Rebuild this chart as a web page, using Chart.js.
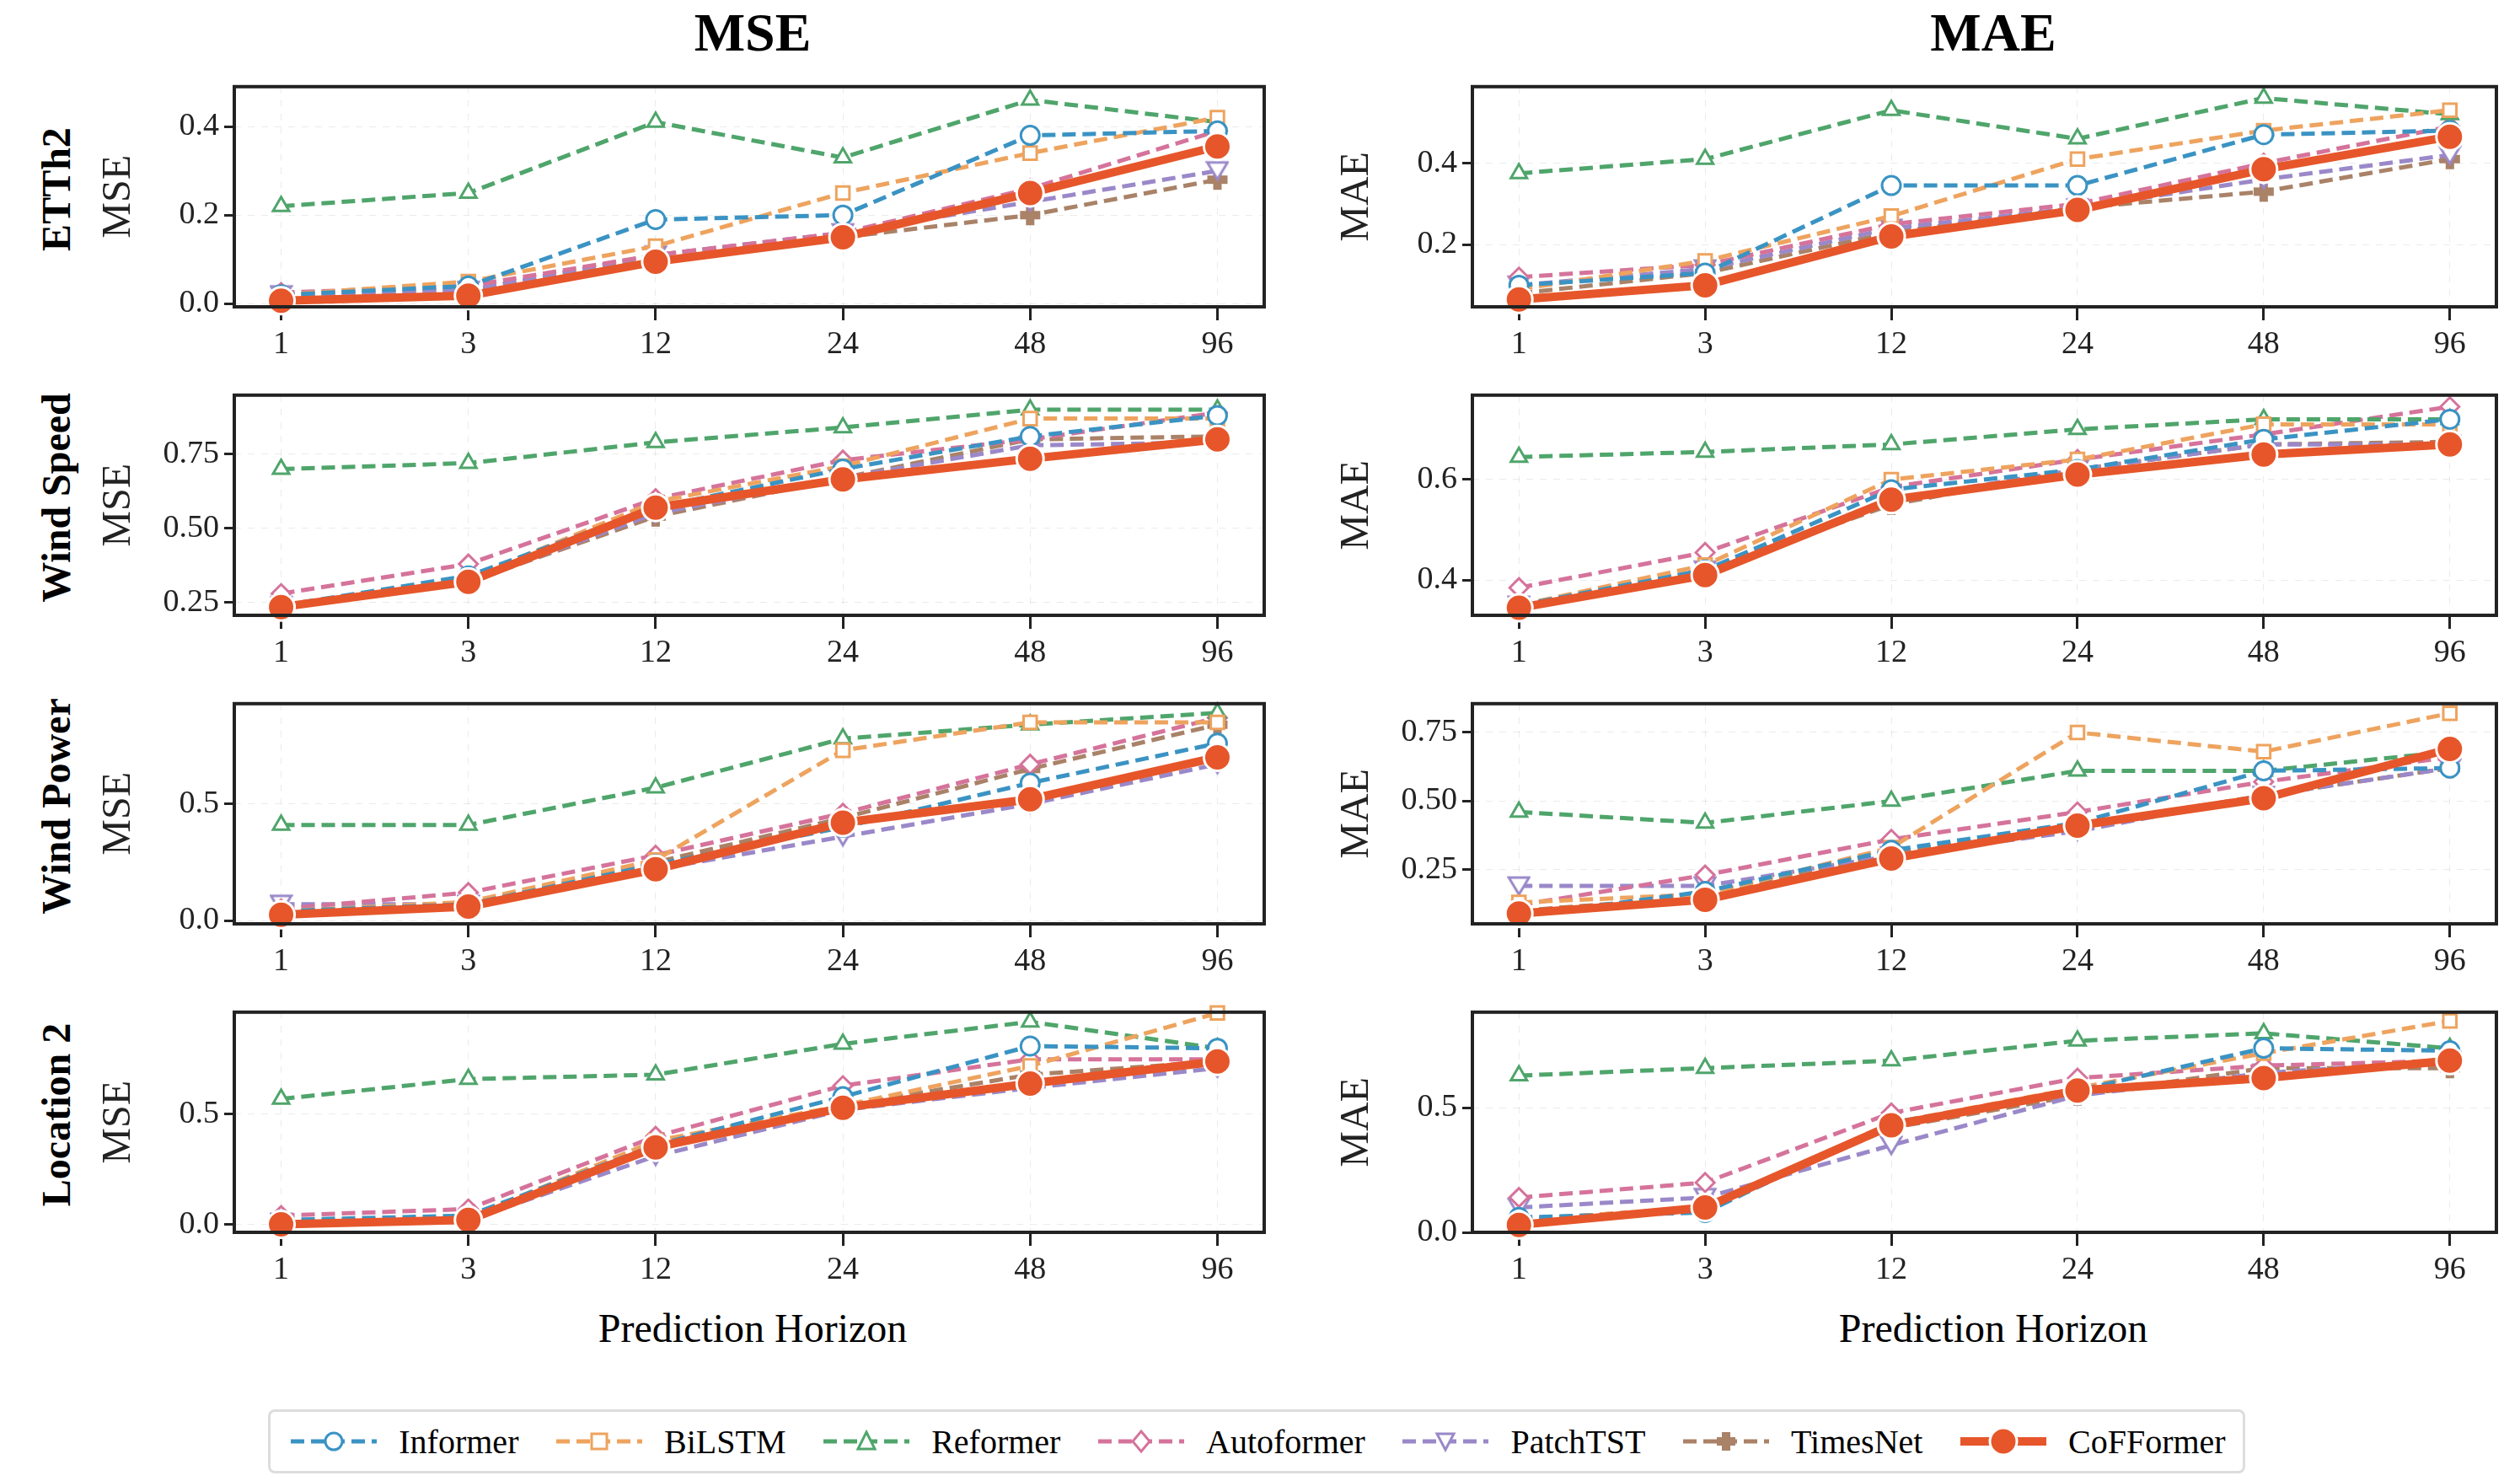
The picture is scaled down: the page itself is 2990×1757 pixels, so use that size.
<!DOCTYPE html>
<html>
<head>
<meta charset="utf-8">
<script src="https://cdn.jsdelivr.net/npm/chart.js@4/dist/chart.umd.min.js"></script>
<style>
  body { margin:0; width:2990px; height:1757px; background:#fff; position:relative; font-family:"Liberation Serif", serif; overflow:hidden; }
  .abs { position:absolute; }
  .colTitle { font-weight:bold; font-size:64px; transform:translateX(-50%); top:2px; }
  .rowLabel { font-weight:bold; font-size:48px; transform:translate(-50%,-50%) rotate(-90deg); white-space:nowrap; }
  .xlab { font-size:48px; transform:translateX(-50%); top:1548px; }
  #legend { left:318px; top:1672px; width:2340px; height:70px; border:3px solid #ddd; border-radius:8px; display:flex; align-items:center; justify-content:space-around; font-size:40px; }
  #legend span { display:flex; align-items:center; gap:22px; }
</style>
</head>
<body>
<div class="abs colTitle" style="left:893px">MSE</div>
<div class="abs colTitle" style="left:2365px">MAE</div>
<div class="abs xlab" style="left:893px">Prediction Horizon</div>
<div class="abs xlab" style="left:2365px">Prediction Horizon</div>
<div id="legend" class="abs"></div>
<script>
const horizons = ['1', '3', '12', '24', '48', '96'];
const models = ['Informer', 'BiLSTM', 'Reformer', 'Autoformer', 'PatchTST', 'TimesNet', 'CoFFormer'];
const datasets = ['ETTh2', 'Wind Speed', 'Wind Power', 'Location 2'];

// MSE per dataset, one row per model (same order as models)
const mseETTh2 = [
  [0.02, 0.04, 0.19, 0.20, 0.38, 0.39],
  [0.02, 0.05, 0.13, 0.25, 0.34, 0.42],
  [0.22, 0.25, 0.41, 0.33, 0.46, 0.41],
  [0.025, 0.04, 0.11, 0.16, 0.26, 0.39],
  [0.02, 0.03, 0.11, 0.16, 0.23, 0.30],
  [0.02, 0.03, 0.10, 0.15, 0.20, 0.28],
  [0.007, 0.018, 0.095, 0.15, 0.25, 0.355]
];
const mseWindSpeed = [
  [0.24, 0.34, 0.57, 0.70, 0.81, 0.88],
  [0.24, 0.33, 0.59, 0.71, 0.87, 0.87],
  [0.70, 0.72, 0.79, 0.84, 0.90, 0.90],
  [0.28, 0.38, 0.60, 0.73, 0.80, 0.89],
  [0.24, 0.32, 0.55, 0.67, 0.78, 0.79],
  [0.24, 0.32, 0.54, 0.67, 0.80, 0.81],
  [0.235, 0.32, 0.57, 0.665, 0.735, 0.80]
];
const mseWindPower = [
  [0.04, 0.07, 0.24, 0.40, 0.59, 0.76],
  [0.04, 0.08, 0.26, 0.73, 0.85, 0.85],
  [0.41, 0.41, 0.57, 0.78, 0.84, 0.89],
  [0.05, 0.12, 0.28, 0.46, 0.67, 0.87],
  [0.07, 0.07, 0.22, 0.36, 0.50, 0.67],
  [0.04, 0.07, 0.25, 0.44, 0.65, 0.84],
  [0.025, 0.06, 0.22, 0.42, 0.52, 0.70]
];
const mseLocation2 = [
  [0.02, 0.04, 0.36, 0.58, 0.81, 0.80],
  [0.01, 0.03, 0.38, 0.54, 0.72, 0.96],
  [0.57, 0.66, 0.68, 0.82, 0.92, 0.80],
  [0.04, 0.07, 0.40, 0.63, 0.75, 0.75],
  [0.01, 0.02, 0.31, 0.52, 0.62, 0.71],
  [0.01, 0.03, 0.36, 0.54, 0.68, 0.74],
  [0.0, 0.02, 0.35, 0.53, 0.64, 0.74]
];
// MAE
const maeETTh2 = [
  [0.10, 0.13, 0.345, 0.345, 0.47, 0.48],
  [0.09, 0.16, 0.27, 0.41, 0.48, 0.53],
  [0.375, 0.41, 0.53, 0.46, 0.56, 0.52],
  [0.12, 0.15, 0.25, 0.30, 0.40, 0.49],
  [0.10, 0.14, 0.24, 0.29, 0.36, 0.42],
  [0.08, 0.13, 0.23, 0.29, 0.33, 0.41],
  [0.065, 0.10, 0.22, 0.285, 0.385, 0.465]
];
const maeWindSpeed = [
  [0.35, 0.42, 0.58, 0.62, 0.68, 0.72],
  [0.35, 0.43, 0.60, 0.64, 0.71, 0.71],
  [0.645, 0.655, 0.67, 0.70, 0.72, 0.72],
  [0.385, 0.455, 0.585, 0.64, 0.69, 0.745],
  [0.35, 0.42, 0.56, 0.62, 0.67, 0.67],
  [0.35, 0.42, 0.55, 0.62, 0.67, 0.675],
  [0.345, 0.41, 0.56, 0.61, 0.65, 0.67]
];
const maeWindPower = [
  [0.08, 0.17, 0.32, 0.42, 0.61, 0.62],
  [0.13, 0.16, 0.33, 0.75, 0.68, 0.82],
  [0.46, 0.42, 0.50, 0.61, 0.61, 0.68],
  [0.12, 0.23, 0.36, 0.46, 0.57, 0.66],
  [0.19, 0.19, 0.30, 0.39, 0.52, 0.62],
  [0.10, 0.15, 0.31, 0.41, 0.52, 0.62],
  [0.09, 0.14, 0.29, 0.41, 0.51, 0.69]
];
const maeLocation2 = [
  [0.06, 0.08, 0.44, 0.57, 0.74, 0.73],
  [0.05, 0.10, 0.44, 0.58, 0.72, 0.85],
  [0.63, 0.66, 0.69, 0.77, 0.80, 0.74],
  [0.14, 0.20, 0.48, 0.62, 0.67, 0.69],
  [0.10, 0.14, 0.35, 0.55, 0.64, 0.69],
  [0.05, 0.10, 0.42, 0.55, 0.66, 0.66],
  [0.03, 0.10, 0.43, 0.57, 0.62, 0.69]
];

// y ticks per panel
const mseTicks = [[0, 0.2, 0.4], [0.25, 0.5, 0.75], [0, 0.5], [0, 0.5]];
const maeTicks = [[0.2, 0.4], [0.4, 0.6], [0.25, 0.5, 0.75], [0, 0.5]];
const mseRange = [[-0.007, 0.49], [0.207, 0.949], [-0.014, 0.93], [-0.036, 0.964]];
const maeRange = [[0.047, 0.588], [0.33, 0.768], [0.052, 0.855], [0, 0.885]];

const colors = ['#3a93c3', '#eea35e', '#4fa56b', '#d5739b', '#9a88c9', '#a98268', '#e6562a'];
const shapes = ['circle', 'rect', 'triangle', 'rectRot', 'triangleDown', 'crossRot', 'circle'];

function makeTriDown(color) {
  const c = document.createElement('canvas'); c.width = 28; c.height = 26;
  const g = c.getContext('2d');
  g.fillStyle = '#fff'; g.strokeStyle = color; g.lineWidth = 3;
  g.beginPath(); g.moveTo(2, 3); g.lineTo(26, 3); g.lineTo(14, 23); g.closePath(); g.fill(); g.stroke();
  return c;
}
function makePlus(color) {
  const c = document.createElement('canvas'); c.width = 28; c.height = 28;
  const g = c.getContext('2d');
  g.fillStyle = color;
  g.fillRect(9, 2, 10, 24); g.fillRect(2, 9, 24, 10);
  return c;
}

const frame = {
  id: 'frame',
  afterDraw(chart) {
    const a = chart.chartArea, g = chart.ctx;
    g.save(); g.strokeStyle = '#222'; g.lineWidth = 4;
    g.strokeRect(a.left, a.top, a.right - a.left, a.bottom - a.top);
    g.restore();
  }
};

const plotTops = [101, 467, 833, 1199];
const plotH = 263;
const cols = [{ left: 278, width: 1229, label: 'MSE', sets: [mseETTh2, mseWindSpeed, mseWindPower, mseLocation2], ticks: mseTicks, range: mseRange },
              { left: 1747, width: 1222, label: 'MAE', sets: [maeETTh2, maeWindSpeed, maeWindPower, maeLocation2], ticks: maeTicks, range: maeRange }];
const Y_W = 165, X_H = 90;

cols.forEach(col => {
  datasets.forEach((name, r) => {
    const cv = document.createElement('canvas');
    cv.className = 'abs';
    cv.style.left = (col.left - Y_W) + 'px';
    cv.style.top = (plotTops[r] - 27) + 'px';
    cv.style.width = (col.width + Y_W + 12) + 'px';
    cv.style.height = (plotH + X_H + 27) + 'px';
    document.body.appendChild(cv);
    const rows = col.sets[r];
    const ticks = col.ticks[r];
    new Chart(cv, {
      type: 'line',
      data: {
        datasets: models.map((m, i) => {
          const best = i === models.length - 1;
          let style = shapes[i];
          if (i === 4) style = makeTriDown(colors[i]);
          if (i === 5) style = makePlus(colors[i]);
          return {
            label: m,
            data: rows[i].map((v, k) => ({ x: k, y: v })),
            borderColor: colors[i],
            borderWidth: best ? 10 : 5,
            borderDash: best ? [] : [16, 8],
            pointStyle: style,
            pointRadius: best ? 16 : 11,
            pointBackgroundColor: best ? colors[i] : '#fff',
            pointBorderColor: best ? '#fff' : colors[i],
            pointBorderWidth: 3,
            order: best ? 0 : 1,
            clip: false
          };
        })
      },
      options: {
        responsive: false, animation: false, devicePixelRatio: 1,
        layout: { padding: { top: 10, right: 12, left: 0, bottom: 0 } },
        plugins: { legend: { display: false }, tooltip: { enabled: false } },
        scales: {
          x: {
            type: 'linear', min: -0.25, max: 5.25,
            afterBuildTicks: s => { s.ticks = horizons.map((h, k) => ({ value: k })); },
            afterFit: s => { s.height = X_H; },
            ticks: { callback: v => horizons[v], color: '#222', font: { family: 'Liberation Serif', size: 38 }, padding: 6 },
            grid: { color: 'rgba(0,0,0,0.08)', tickColor: '#222', tickLength: 16, tickWidth: 3 },
            border: { display: false, dash: [8, 8] }
          },
          y: {
            min: col.range[r][0], max: col.range[r][1],
            afterBuildTicks: s => { s.ticks = ticks.map(v => ({ value: v })); },
            afterFit: s => { s.width = Y_W; },
            ticks: { callback: v => ticks.some(t => t === 0.25 || t === 0.75) ? v.toFixed(2) : v.toFixed(1), color: '#222', font: { family: 'Liberation Serif', size: 38 }, padding: 6 },
            title: { display: true, text: col.label, color: '#222', font: { family: 'Liberation Serif', size: 48 }, padding: 0 },
            grid: { color: 'rgba(0,0,0,0.08)', tickColor: '#222', tickLength: 12, tickWidth: 3 },
            border: { display: false, dash: [8, 8] }
          }
        }
      },
      plugins: [frame]
    });
    if (col.label === 'MSE') {
      const lab = document.createElement('div');
      lab.className = 'abs rowLabel';
      lab.textContent = name;
      lab.style.left = '66px';
      lab.style.top = (plotTops[r] + plotH / 2 - 8) + 'px';
      document.body.appendChild(lab);
      // centre the rotated label on its anchor
      lab.style.marginLeft = '0px';
    }
  });
});

// position row labels: translate uses pre-rotation size, so fix centre explicitly
document.querySelectorAll('.rowLabel').forEach(el => {
  const w = el.offsetWidth, h = el.offsetHeight;
  el.style.transform = 'rotate(-90deg)';
  el.style.left = (66 - w / 2) + 'px';
  el.style.top = (parseFloat(el.style.top) - h / 2) + 'px';
});

// legend
const leg = document.getElementById('legend');
models.forEach((m, i) => {
  const best = i === models.length - 1;
  const sp = document.createElement('span');
  const ic = document.createElement('canvas');
  ic.width = 110; ic.height = 40;
  const g = ic.getContext('2d');
  g.strokeStyle = colors[i]; g.lineWidth = best ? 10 : 5;
  g.setLineDash(best ? [] : [16, 8]);
  g.beginPath(); g.moveTo(4, 20); g.lineTo(106, 20); g.stroke();
  g.setLineDash([]);
  g.lineWidth = 3;
  g.fillStyle = best ? colors[i] : '#fff';
  g.strokeStyle = best ? '#fff' : colors[i];
  g.beginPath();
  const r0 = best ? 16 : 10;
  if (shapes[i] === 'circle') g.arc(55, 20, r0, 0, Math.PI * 2);
  else if (shapes[i] === 'rect') g.rect(46, 11, 18, 18);
  else if (shapes[i] === 'triangle') { g.moveTo(55, 9); g.lineTo(65, 29); g.lineTo(45, 29); g.closePath(); }
  else if (shapes[i] === 'rectRot') { g.moveTo(55, 8); g.lineTo(65, 20); g.lineTo(55, 32); g.lineTo(45, 20); g.closePath(); }
  else if (shapes[i] === 'triangleDown') { g.moveTo(45, 11); g.lineTo(65, 11); g.lineTo(55, 30); g.closePath(); }
  if (shapes[i] === 'crossRot') { g.fillStyle = colors[i]; g.fillRect(50, 9, 10, 22); g.fillRect(44, 15, 22, 10); }
  else { g.fill(); g.stroke(); }
  sp.appendChild(ic);
  const t = document.createElement('span'); t.textContent = m;
  sp.appendChild(t);
  leg.appendChild(sp);
});
</script>
</body>
</html>
